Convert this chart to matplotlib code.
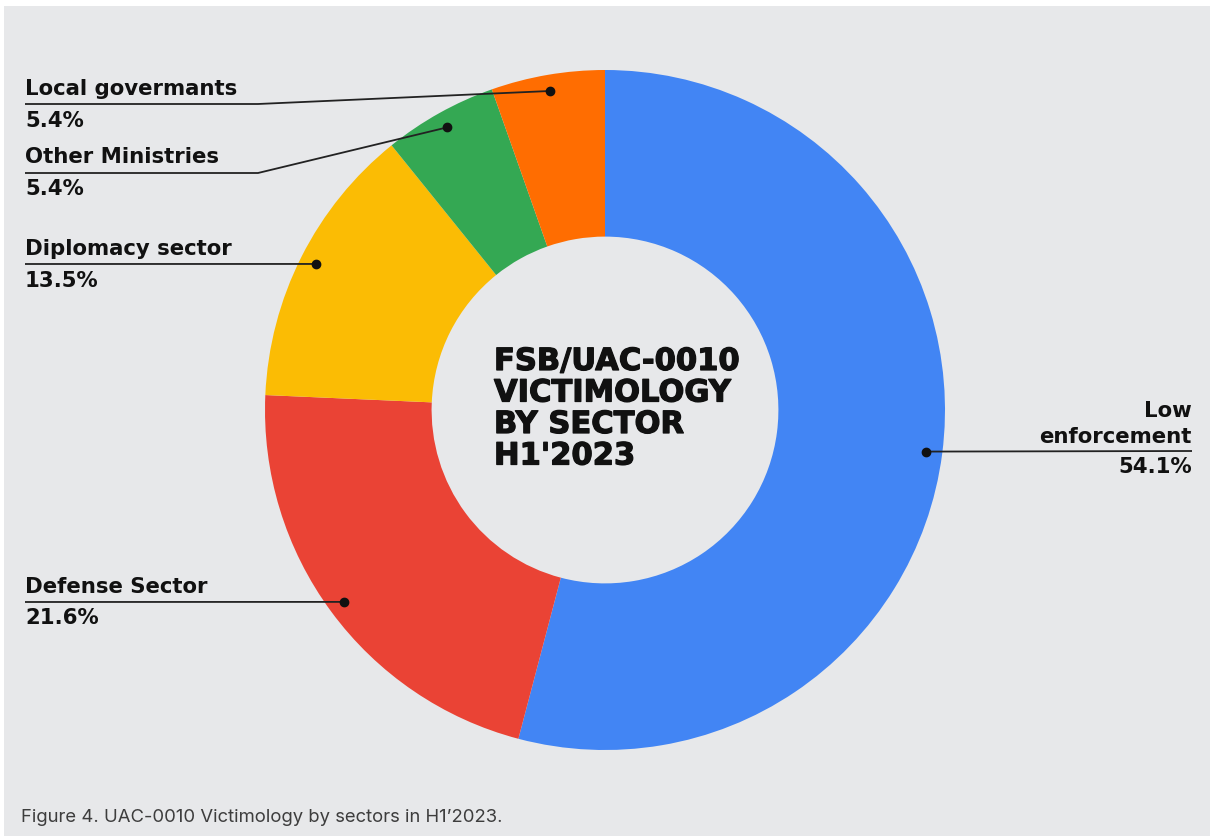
import matplotlib
matplotlib.use('Agg')
import matplotlib.pyplot as plt
import matplotlib.patheffects as pe
import numpy as np
from matplotlib.patches import Rectangle

# data
sectors = ["Low\nenforcement", "Defense Sector", "Diplomacy sector",
           "Other Ministries", "Local govermants"]
shares = [54.1, 21.6, 13.5, 5.4, 5.4]
colors = ["#4285F4", "#EA4335", "#FBBC04", "#34A853", "#FF6D01"]

title_lines = ["FSB/UAC-0010", "VICTIMOLOGY", "BY SECTOR", "H1'2023"]
caption = "Figure 4. UAC-0010 Victimology by sectors in H1\u20192023."

# layout (pixels, image y from top)
W, H = 1210, 836
CX, CY, R = 605, 410, 340
HOLE = 0.51
BG = "#e7e8ea"
LABEL_FONT = "DejaVu Sans"
CAPTION_FONT = "Inter"


def py(y):
    # image y (from top) -> axes y (from bottom)
    return H - y


fig = plt.figure(figsize=(W / 100, H / 100), dpi=100)
fig.patch.set_facecolor("white")
ax = fig.add_axes([0, 0, 1, 1])

ax.add_patch(Rectangle((4, 0), W - 4, H - 6, facecolor=BG, edgecolor="none", zorder=0))

wedges, _ = ax.pie(shares, colors=colors, startangle=90, counterclock=False,
                   center=(CX, py(CY)), radius=R,
                   wedgeprops=dict(width=R * (1 - HOLE), edgecolor="none"))
for w in wedges:
    w.set_zorder(1)

ax.set_xlim(0, W)
ax.set_ylim(0, H)
ax.set_aspect("auto")
ax.axis("off")

# anchor dots at mid-angle of each slice
cum = np.cumsum([0] + shares[:-1])
mids = 90 - (cum + np.array(shares) / 2) / 100 * 360
dot_r = 0.952 * R
dots = [(CX + dot_r * np.cos(np.radians(a)), py(CY) + dot_r * np.sin(np.radians(a))) for a in mids]

# label placement: (side, name baseline(s), line y, pct baseline)
placements = [
    ("right", [417, 443], 451, 473),
    ("left", [593], 602, 624),
    ("left", [255], 264, 287),
    ("left", [163], 173, 195),
    ("left", [95], 104, 127),
]
LEFT_X, RIGHT_X, ELBOW_X = 25, 1192, 258
line_kw = dict(color="#222222", lw=1.3, zorder=3, solid_capstyle="butt")
txt_kw = dict(fontsize=15.3, fontweight="bold", color="#111111", family=LABEL_FONT, zorder=4)

for name, pct, (side, name_ys, ly, pct_y), (dx, dy) in zip(sectors, shares, placements, dots):
    ax.plot([dx], [dy], "o", color="#111111", ms=6, zorder=5)
    if side == "right":
        ax.plot([dx, RIGHT_X], [dy, py(ly)], **line_kw)
        for t, yb in zip(name.split("\n"), name_ys):
            ax.text(RIGHT_X, py(yb), t, ha="right", va="baseline", **txt_kw)
        ax.text(RIGHT_X, py(pct_y), f"{pct:.1f}%", ha="right", va="baseline", **txt_kw)
    else:
        if abs(dy - py(ly)) > 3:
            ax.plot([LEFT_X, ELBOW_X, dx], [py(ly), py(ly), dy], **line_kw)
        else:
            ax.plot([LEFT_X, dx], [py(ly), dy], **line_kw)
        ax.text(LEFT_X, py(name_ys[0]), name, ha="left", va="baseline", **txt_kw)
        ax.text(LEFT_X, py(pct_y), f"{pct:.1f}%", ha="left", va="baseline", **txt_kw)

# centre title (slight stroke to get the heavier look)
for i, t in enumerate(title_lines):
    ax.text(494, py(370 + i * 31.5), t, ha="left", va="baseline", fontsize=22,
            fontweight="bold", family=LABEL_FONT, color="#111111", zorder=4,
            path_effects=[pe.withStroke(linewidth=0.9, foreground="#111111")])

ax.text(21, py(822), caption, ha="left", va="baseline", fontsize=13.3,
        color="#3d3d3d", family=CAPTION_FONT, zorder=4)

fig.savefig("out.png", dpi=100, facecolor=fig.get_facecolor())
